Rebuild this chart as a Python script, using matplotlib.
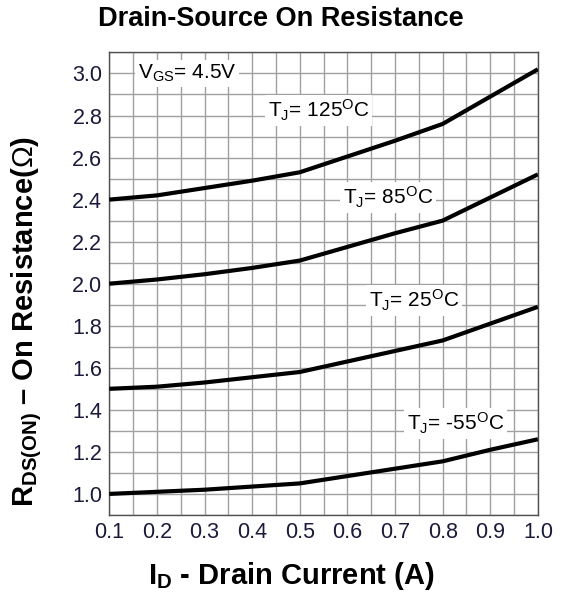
import numpy as np
import matplotlib
matplotlib.use("Agg")
import matplotlib.pyplot as plt

plt.rcParams['font.family'] = ['Liberation Sans', 'DejaVu Sans']
plt.rcParams['mathtext.fontset'] = 'custom'
plt.rcParams['mathtext.rm'] = 'Liberation Sans'
plt.rcParams['mathtext.it'] = 'Liberation Sans'
plt.rcParams['mathtext.bf'] = 'Liberation Sans:bold'

# drain current (A)
i_d = [0.1, 0.2, 0.3, 0.4, 0.5, 0.6, 0.7, 0.8, 0.9, 1.0]
# on resistance (ohm) per junction temperature
r_125 = [2.40, 2.42, 2.455, 2.49, 2.53, 2.605, 2.68, 2.76, 2.89, 3.02]
r_85 = [2.00, 2.02, 2.045, 2.075, 2.11, 2.175, 2.24, 2.30, 2.41, 2.52]
r_25 = [1.50, 1.51, 1.53, 1.555, 1.58, 1.63, 1.68, 1.73, 1.81, 1.89]
r_m55 = [1.00, 1.01, 1.02, 1.035, 1.05, 1.085, 1.12, 1.155, 1.21, 1.26]

xticks = [0.1, 0.2, 0.3, 0.4, 0.5, 0.6, 0.7, 0.8, 0.9, 1.0]
yticks = [1.0, 1.2, 1.4, 1.6, 1.8, 2.0, 2.2, 2.4, 2.6, 2.8, 3.0]

fig = plt.figure(figsize=(5.61, 5.96), dpi=100)
ax = fig.add_axes([0.1948, 0.136, 0.764, 0.776])

for r in [r_125, r_85, r_25, r_m55]:
    ax.plot(i_d, r, color='black', lw=3.0, solid_capstyle='butt', zorder=3)

ax.set_xlim(0.1, 1.0)
ax.set_ylim(0.9, 3.1)
ax.set_xticks(xticks)
ax.set_yticks(yticks)
ax.set_xticklabels([f'{v:.1f}' for v in xticks])
ax.set_yticklabels([f'{v:.1f}' for v in yticks])
ax.set_xticks(np.arange(0.1, 1.0001, 0.05), minor=True)
ax.set_yticks(np.arange(0.9, 3.1001, 0.1), minor=True)
ax.grid(which='both', color='#a0a0a0', lw=1.0)
ax.set_axisbelow(True)
ax.tick_params(which='both', length=0, labelsize=15.5, labelcolor='#1a1a3a', pad=5)
for s in ax.spines.values():
    s.set_color('#505050')
    s.set_linewidth(1.0)

box = dict(facecolor='white', edgecolor='none', pad=2)
ax.text(0.16, 3.0, r'V$_{GS}$= 4.5V', fontsize=15, va='center', ha='left', bbox=box, zorder=4)
ax.text(0.54, 2.825, r'T$_J$= 125$^{O}$C', fontsize=15, va='center', ha='center', bbox=box, zorder=4)
ax.text(0.685, 2.41, r'T$_J$= 85$^{O}$C', fontsize=15, va='center', ha='center', bbox=box, zorder=4)
ax.text(0.74, 1.92, r'T$_J$= 25$^{O}$C', fontsize=15, va='center', ha='center', bbox=box, zorder=4)
ax.text(0.827, 1.336, r'T$_J$= -55$^{O}$C', fontsize=15, va='center', ha='center', bbox=box, zorder=4)

fig.text(0.5, 0.968, 'Drain-Source On Resistance', fontsize=19.5, fontweight='bold',
         ha='center', va='center')
fig.text(291 / 561, 1 - 576 / 596, r'$\mathbf{I_D}$ - Drain Current (A)', fontsize=21,
         fontweight='bold', ha='center', va='center')
fig.text(27 / 561, 1 - 321 / 596, r'$\mathbf{R_{DS(ON)}}$ – On Resistance($\Omega$)', fontsize=21,
         fontweight='bold', ha='center', va='center', rotation=90)

fig.savefig('out.png', dpi=100)
